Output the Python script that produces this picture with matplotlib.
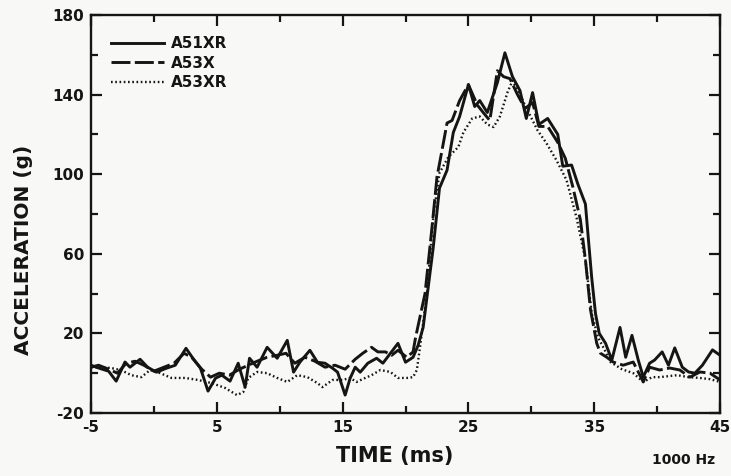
import matplotlib
matplotlib.use("Agg")
import matplotlib.pyplot as plt
from matplotlib.ticker import FixedLocator

plt.rcParams['font.family'] = ['DejaVu Sans']
plt.rcParams['font.weight'] = 'bold'

# ---- data ----
series_names = ["A51XR", "A53X", "A53XR"]

t_a51xr = [-5, -4.4, -3.6, -3.0, -2.3, -1.9, -1.1, -0.5, 0.2, 1.0, 1.7, 2.55, 3.1, 3.7,
           4.3, 4.9, 5.4, 6.05, 6.7, 7.25, 7.6, 8.2, 9.0, 9.8, 10.6, 11.1, 11.6, 12.4,
           13.0, 13.6, 14.2, 14.6, 15.2, 15.6, 16.0, 16.4, 17.0, 17.7, 18.2, 19.4, 20.0,
           20.6, 21.0, 21.4, 22.2, 22.7, 23.3, 23.8, 24.3, 25.0, 25.5, 25.9, 26.5, 27.3,
           27.9, 28.5, 29.1, 29.6, 30.1, 30.6, 31.3, 32.1, 32.5, 33.2, 33.7, 34.3, 34.5,
           34.8, 35.1, 35.4, 35.9, 36.4, 37.05, 37.5, 38.0, 38.5, 38.9, 39.4, 39.8, 40.4,
           40.9, 41.4, 42.0, 42.5, 43.0, 43.6, 44.4, 45.0]
g_a51xr = [4, 2.6, 1, -4, 5.6, 3, 7, 3, 0.5, 2.5, 4, 12.5, 7.5, 2.5,
           -9, -2.5, -1, -4, 5, -7, 7.5, 3, 13, 7.5, 16.5, 0.5, 5.5, 11.5,
           5.5, 5, 2.5, 0.5, -11, -2.5, 3, 0.5, 5, 7.5, 5, 15, 5.5,
           8, 14, 23, 63, 93, 102, 121, 129, 145, 134, 137, 131, 146,
           161, 149, 142, 128, 141, 125, 128, 120, 104, 104.6, 95, 85, 70,
           48, 30, 20, 15, 6.6, 23, 8, 19, 6.6, -2, 5, 6.6, 10.7,
           4, 12.7, 3, 0.6, 0, 4, 11.7, 9]

t_a53x = [-5, -4.4, -3.6, -2.9, -2.2, -1.5, -0.8, 0.0, 0.8, 1.6, 2.4, 3.0, 3.8, 4.5,
          5.2, 6.0, 6.8, 7.5, 8.2, 9.0, 9.8, 10.5, 11.2, 12.0, 12.8, 13.6, 14.4, 15.2,
          16.0, 16.6, 17.3, 17.8, 18.4, 18.9, 19.4, 20.1, 20.6, 20.8, 21.55, 22.1, 22.5,
          22.9, 23.3, 23.7, 24.3, 25.0, 25.7, 26.2, 26.7, 27.3, 27.8, 28.3, 28.9, 29.5,
          30.1, 30.6, 31.3, 32.1, 32.7, 33.3, 33.9, 34.3, 34.7, 35.2, 35.5, 36.0, 36.5,
          37.3, 38.1, 38.9, 39.4, 40.2, 41.0, 41.8, 42.6, 43.4, 44.2, 45.0]
g_a53x = [3, 4, 2, 0, 5, 6, 4, 1, 3, 5, 10, 8, 2, -2,
          0, -1, 2, 4, 6, 8, 9, 10, 5, 8, 6, 3, 4, 2,
          7, 10, 13, 10.7, 10.7, 9, 11.5, 8, 10.7, 18, 40, 73, 98.6,
          112, 125.7, 127, 137, 145, 134.8, 130.8, 127, 152, 149, 148, 140, 133,
          136, 124, 124, 116, 108, 93.6, 77, 57, 32, 15, 10, 8, 5.6,
          4, 5.6, -4.4, 3, 1.6, 2.6, 1.6, -2, 0.6, 0, -3.4]

t_a53xr = [-5, -4.2, -3.4, -2.6, -1.8, -1.0, -0.3, 0.5, 1.4, 2.5, 3.5, 4.6, 5.65, 6.6,
           7.1, 7.5, 8.2, 9.0, 9.8, 10.6, 11.4, 12.2, 13.0, 13.4, 14.2, 15.0, 15.6, 16.1,
           16.8, 17.3, 18.0, 18.8, 19.4, 20.1, 20.6, 20.9, 21.15, 21.7, 22.2, 22.7, 23.4,
           24.2, 24.6, 25.3, 25.9, 26.5, 27.0, 27.5, 28.1, 28.5, 29.1, 29.7, 30.5, 31.2,
           32.0, 32.8, 33.6, 34.3, 34.8, 35.3, 35.8, 36.3, 37.2, 38.1, 38.9, 39.6, 40.2,
           41.6, 42.5, 43.4, 44.2, 45.0]
g_a53xr = [3, 3, 2.6, 1.5, -1, -2, 1.6, 0, -2.4, -2.4, -3.4, -5, -7.4, -11,
           -9.5, -2.4, 0.6, 0, -2.4, -4.4, -1, -2, -5, -7, -3.4, -3.4, -2.4, -4.4,
           -2.4, -1, 1.6, 0.6, -2.4, -2.4, -2, 1.6, 13, 40, 78.5, 100.6, 108.6,
           113.7, 121, 128, 129, 125, 123.7, 129, 141, 147, 140, 132, 122, 115.6,
           107, 97, 78, 57, 30, 18, 12, 5.6, 2, 0, -4.4, -2, -2,
           -1, -2, -2.4, -3, -4.4]

x_major = [-5, 5, 15, 25, 35, 45]
x_minor = [0, 10, 20, 30, 40]
y_major = [-20, 20, 60, 100, 140, 180]
y_minor = [0, 40, 80, 120, 160]

# ---- figure ----
ink = '#151515'
bg = '#f8f8f6'
fig = plt.figure(figsize=(7.31, 4.76), dpi=100, facecolor=bg)
ax = fig.add_axes([0.1245, 0.1324, 0.8605, 0.8361], facecolor=bg)

lw = 2.1
ax.plot(t_a51xr, g_a51xr, color=ink, lw=lw, ls='-', label=series_names[0])
ax.plot(t_a53x, g_a53x, color=ink, lw=lw, ls=(0, (6.5, 1.5)), label=series_names[1])
ax.plot(t_a53xr, g_a53xr, color=ink, lw=1.7, ls=(0, (0.7, 1.1)), label=series_names[2])

ax.set_xlim(-5, 45)
ax.set_ylim(-20, 180)
ax.xaxis.set_major_locator(FixedLocator(x_major))
ax.xaxis.set_minor_locator(FixedLocator(x_minor))
ax.yaxis.set_major_locator(FixedLocator(y_major))
ax.yaxis.set_minor_locator(FixedLocator(y_minor))
ax.set_xticklabels([str(v) for v in x_major])
ax.set_yticklabels([str(v) for v in y_major])

ax.tick_params(which='both', direction='in', top=True, right=True, color=ink,
               labelcolor=ink, width=1.6)
ax.tick_params(which='major', length=8, labelsize=11, pad=5)
ax.tick_params(which='minor', length=5)
for lab in ax.get_xticklabels() + ax.get_yticklabels():
    lab.set_fontweight('bold')
for s in ax.spines.values():
    s.set_linewidth(1.7)
    s.set_color(ink)

ax.set_xlabel('TIME (ms)', fontsize=15, fontweight='bold', color=ink)
ax.set_ylabel('ACCELERATION (g)', fontsize=14.5, fontweight='bold', color=ink)
ax.xaxis.set_label_coords(0.483, -0.083)
ax.yaxis.set_label_coords(-0.093, 0.41)

leg = ax.legend(loc='upper left', frameon=False, handlelength=3.5, handletextpad=0.45,
                labelspacing=0.3, fontsize=11, borderaxespad=0.0,
                bbox_to_anchor=(0.022, 0.962))
for txt in leg.get_texts():
    txt.set_fontweight('bold')
    txt.set_color(ink)

fig.text(0.978, 0.018, '1000 Hz', ha='right', va='bottom', fontsize=10,
         fontweight='bold', color=ink)

fig.savefig('out.png', dpi=100, facecolor=bg)
